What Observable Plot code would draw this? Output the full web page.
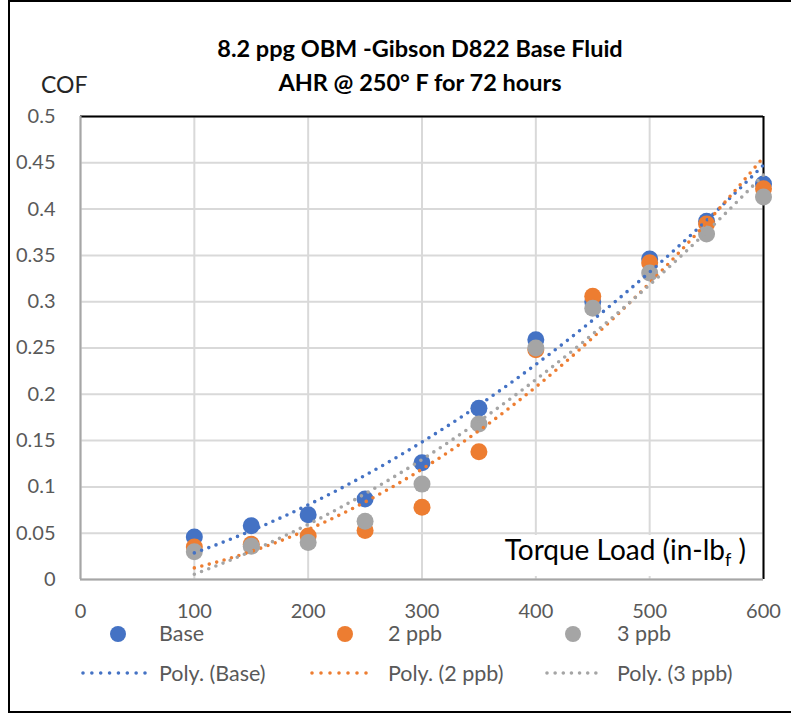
<!DOCTYPE html>
<html>
<head>
<meta charset="utf-8">
<script src="https://cdn.jsdelivr.net/npm/d3@7"></script>
<script src="https://cdn.jsdelivr.net/npm/@observablehq/plot@0.6"></script>
<style>
  html, body { margin: 0; padding: 0; background: #fff; }
  #wrap { position: relative; width: 791px; height: 719px; overflow: hidden; font-family: Lato, "Open Sans", sans-serif; }
  #border { position: absolute; left: 8px; top: 0px; width: 800px; height: 709px; border: 2px solid #000; pointer-events: none; }
  .abs { position: absolute; white-space: nowrap; }
  .title { left: 0; width: 840px; text-align: center; font-weight: bold; font-size: 23.5px; color: #000; line-height: 28px; }
  .leg { font-size: 21.5px; color: #595959; line-height: 26px; }
  .dot { position: absolute; width: 16px; height: 16px; border-radius: 50%; }
</style>
</head>
<body>
<div id="wrap"><div id="border"></div></div>
<script>
// ---- data ----
const torque = [100, 150, 200, 250, 300, 350, 400, 450, 500, 550, 600];
const base   = [0.046, 0.058, 0.070, 0.087, 0.126, 0.185, 0.259, 0.300, 0.346, 0.387, 0.427];
const ppb2   = [0.035, 0.038, 0.047, 0.053, 0.078, 0.138, 0.248, 0.306, 0.342, 0.384, 0.422];
const ppb3   = [0.030, 0.036, 0.040, 0.063, 0.103, 0.168, 0.250, 0.293, 0.331, 0.373, 0.413];
const seriesNames = ["Base", "2 ppb", "3 ppb"];
const seriesColors = ["#4472C4", "#ED7D31", "#A5A5A5"];
const xTicks = [0, 100, 200, 300, 400, 500, 600];
const yTicks = [0, 0.05, 0.1, 0.15, 0.2, 0.25, 0.3, 0.35, 0.4, 0.45, 0.5];

const seriesValues = [base, ppb2, ppb3];
const points = [];
seriesValues.forEach((vals, s) => vals.forEach((v, i) => points.push({x: torque[i], y: v, s: seriesNames[s]})));

// quadratic (order 2) least squares trendline, like Excel's "Poly." trendline
function polyFit(xs, ys) {
  const u = xs.map(x => x / 100);
  let S = [0,0,0,0,0], T = [0,0,0];
  u.forEach((x, i) => {
    for (let k = 0; k < 5; k++) S[k] += Math.pow(x, k);
    for (let k = 0; k < 3; k++) T[k] += ys[i] * Math.pow(x, k);
  });
  const A = [[S[0],S[1],S[2],T[0]],[S[1],S[2],S[3],T[1]],[S[2],S[3],S[4],T[2]]];
  for (let c = 0; c < 3; c++) {
    for (let r = c + 1; r < 3; r++) {
      const f = A[r][c] / A[c][c];
      for (let k = c; k < 4; k++) A[r][k] -= f * A[c][k];
    }
  }
  const b = [0,0,0];
  for (let r = 2; r >= 0; r--) {
    let sum = A[r][3];
    for (let k = r + 1; k < 3; k++) sum -= A[r][k] * b[k];
    b[r] = sum / A[r][r];
  }
  return x => { const t = x / 100; return b[0] + b[1] * t + b[2] * t * t; };
}
const trend = [];
seriesValues.forEach((vals, s) => {
  const f = polyFit(torque, vals);
  for (let x = torque[0]; x <= torque[torque.length - 1]; x += 5) trend.push({x, y: f(x), s: seriesNames[s]});
});

const plot = Plot.plot({
  width: 791,
  height: 719,
  marginLeft: 80,
  marginRight: 28,
  marginTop: 116,
  marginBottom: 140,
  style: {fontFamily: "Lato, 'Open Sans', sans-serif", fontSize: "20px", color: "#595959", background: "transparent", overflow: "visible"},
  x: {domain: [0, 600], label: null},
  y: {domain: [0, 0.5], label: null},
  color: {domain: seriesNames, range: seriesColors},
  marks: [
    Plot.gridX(xTicks, {stroke: "#d9d9d9", strokeOpacity: 1, strokeWidth: 2}),
    Plot.gridY(yTicks, {stroke: "#d9d9d9", strokeOpacity: 1, strokeWidth: 2}),
    Plot.ruleY([0.5], {stroke: "#000", strokeWidth: 2}),
    Plot.ruleX([600], {stroke: "#000", strokeWidth: 2}),
    Plot.ruleX([0], {stroke: "#a6a6a6", strokeWidth: 2}),
    Plot.ruleY([0], {stroke: "#a6a6a6", strokeWidth: 2}),
    Plot.axisX({ticks: xTicks, tickSize: 0, tickPadding: 24, label: null}),
    Plot.axisY({ticks: yTicks, tickSize: 0, tickPadding: 25, label: null, tickFormat: d3.format("~g")}),
    Plot.dot(points, {x: "x", y: "y", fill: "s", r: 8.5, stroke: "none"}),
    Plot.line(trend, {x: "x", y: "y", stroke: "s", z: "s", strokeWidth: 3.6, strokeLinecap: "round", strokeDasharray: "0 7.7"})
  ]
});

const wrap = document.getElementById("wrap");
plot.style.position = "absolute";
plot.style.left = "0px";
plot.style.top = "0px";
wrap.insertBefore(plot, wrap.firstChild);

function addDiv(html, cls, css) {
  const d = document.createElement("div");
  d.className = cls;
  d.innerHTML = html;
  Object.assign(d.style, css);
  wrap.appendChild(d);
  return d;
}

addDiv("8.2 ppg OBM -Gibson D822 Base Fluid", "abs title", {top: "34px"});
addDiv("AHR @ 250° F for 72 hours", "abs title", {top: "68px"});
addDiv("COF", "abs", {left: "41px", top: "70px", fontSize: "23px", color: "#262626"});
addDiv("Torque Load (in-lb<sub style='font-size:18px;vertical-align:-6px;line-height:0'>f</sub> )", "abs",
  {right: "43px", top: "535px", fontSize: "28px", color: "#000", background: "#fff", padding: "0px 2px 13px 4px", lineHeight: "28px"});

// legend
const dotCx = [118, 345, 573];
const textX = [159, 388, 617];
const lineX = [[83, 145], [312, 375], [547, 604]];
seriesNames.forEach((name, i) => {
  const dot = document.createElement("div");
  dot.className = "dot";
  Object.assign(dot.style, {left: (dotCx[i] - 8) + "px", top: (634 - 8) + "px", background: seriesColors[i]});
  wrap.appendChild(dot);
  addDiv(name, "abs leg", {left: textX[i] + "px", top: "620px"});
  const ns = "http://www.w3.org/2000/svg";
  const svg = document.createElementNS(ns, "svg");
  svg.setAttribute("width", lineX[i][1] - lineX[i][0] + 6);
  svg.setAttribute("height", 8);
  Object.assign(svg.style, {position: "absolute", left: (lineX[i][0] - 3) + "px", top: (673 - 4) + "px"});
  const ln = document.createElementNS(ns, "line");
  ln.setAttribute("x1", 3); ln.setAttribute("x2", lineX[i][1] - lineX[i][0] + 3);
  ln.setAttribute("y1", 4); ln.setAttribute("y2", 4);
  ln.setAttribute("stroke", seriesColors[i]);
  ln.setAttribute("stroke-width", 3.6);
  ln.setAttribute("stroke-linecap", "round");
  ln.setAttribute("stroke-dasharray", "0 " + ((lineX[i][1] - lineX[i][0]) / 7));
  svg.appendChild(ln);
  wrap.appendChild(svg);
  addDiv("Poly. (" + name + ")", "abs leg", {left: textX[i] + "px", top: "660px"});
});
</script>
</body>
</html>
